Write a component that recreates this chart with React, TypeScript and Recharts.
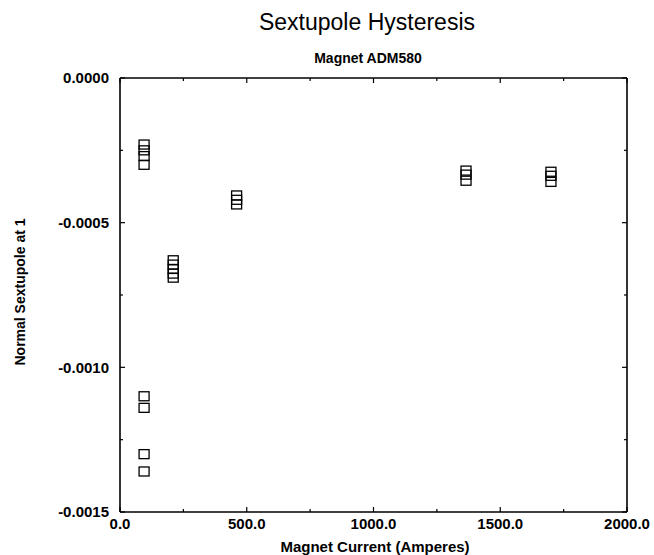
import { ScatterChart, Scatter, XAxis, YAxis } from 'recharts';

// tick values (minor every 250 A / 0.00025, labels on the major ones)
const currentTicks = [0, 250, 500, 750, 1000, 1250, 1500, 1750, 2000];
const sextupoleTicks = [0, -0.00025, -0.0005, -0.00075, -0.001, -0.00125, -0.0015];

// measured points, one array per current setting
const lowCurrentUp = [
  { current: 95, sextupole: -0.00023 },
  { current: 95, sextupole: -0.00025 },
  { current: 95, sextupole: -0.00027 },
  { current: 95, sextupole: -0.0003 },
];
const lowCurrentDown = [
  { current: 95, sextupole: -0.0011 },
  { current: 95, sextupole: -0.00114 },
  { current: 95, sextupole: -0.0013 },
  { current: 95, sextupole: -0.00136 },
];
const current210 = [
  { current: 210, sextupole: -0.00063 },
  { current: 210, sextupole: -0.000645 },
  { current: 210, sextupole: -0.00066 },
  { current: 210, sextupole: -0.000676 },
  { current: 210, sextupole: -0.00069 },
];
const current460 = [
  { current: 460, sextupole: -0.000406 },
  { current: 460, sextupole: -0.000421 },
  { current: 460, sextupole: -0.000437 },
];
const current1365 = [
  { current: 1365, sextupole: -0.00032 },
  { current: 1365, sextupole: -0.000334 },
  { current: 1365, sextupole: -0.000355 },
];
const current1700 = [
  { current: 1700, sextupole: -0.000324 },
  { current: 1700, sextupole: -0.000338 },
  { current: 1700, sextupole: -0.000359 },
];

const groups = [lowCurrentUp, lowCurrentDown, current210, current460, current1365, current1700];

const FONT = '"Liberation Sans", Arial, Helvetica, sans-serif';

const isMajorX = (v: number) => v % 500 === 0;
const isMajorY = (v: number) => Math.abs(Math.round(v / 0.0005) * 0.0005 - v) < 1e-9;

const BottomTick = (props: any) => {
  const { x, y, payload } = props;
  const major = isMajorX(payload.value);
  return (
    <g>
      <line x1={x} y1={y} x2={x} y2={y - (major ? 5 : 3)} stroke="#000" strokeWidth={1.2} />
      {major && (
        <text x={x} y={y + 17} textAnchor="middle" fontSize={15} fontWeight="bold" fontFamily={FONT} fill="#000">
          {payload.value.toFixed(1)}
        </text>
      )}
    </g>
  );
};

const TopTick = (props: any) => {
  const { x, y, payload } = props;
  const major = isMajorX(payload.value);
  return <line x1={x} y1={y} x2={x} y2={y + (major ? 5 : 3)} stroke="#000" strokeWidth={1.2} />;
};

const LeftTick = (props: any) => {
  const { x, y, payload } = props;
  const major = isMajorY(payload.value);
  return (
    <g>
      <line x1={x} y1={y} x2={x + (major ? 5 : 3)} y2={y} stroke="#000" strokeWidth={1.2} />
      {major && (
        <text x={x - 11} y={y} dy="0.35em" textAnchor="end" fontSize={15} fontWeight="bold" fontFamily={FONT} fill="#000">
          {payload.value.toFixed(4)}
        </text>
      )}
    </g>
  );
};

const RightTick = (props: any) => {
  const { x, y, payload } = props;
  const major = isMajorY(payload.value);
  return <line x1={x} y1={y} x2={x - (major ? 5 : 3)} y2={y} stroke="#000" strokeWidth={1.2} />;
};

const HollowSquare = (props: any) => {
  const { cx, cy } = props;
  return <rect x={cx - 5} y={cy - 4.5} width={10} height={9} fill="none" stroke="#000" strokeWidth={1.3} />;
};

const centered = (left: number, top: number, extra: any = {}) => ({
  position: 'absolute' as const,
  left,
  top,
  transform: 'translate(-50%, -50%)',
  whiteSpace: 'nowrap' as const,
  fontFamily: FONT,
  color: '#000',
  lineHeight: 1,
  ...extra,
});

export default function App() {
  return (
    <div style={{ position: 'absolute', left: 0, top: 0, width: 654, height: 555, background: '#fff' }}>
      <ScatterChart width={654} height={555} margin={{ top: 77, right: 26, bottom: 0, left: 0 }}>
        <XAxis
          xAxisId="b"
          type="number"
          dataKey="current"
          domain={[0, 2000]}
          ticks={currentTicks}
          height={43}
          tickSize={0}
          tickMargin={0}
          tickLine={false}
          tick={<BottomTick />}
          axisLine={{ stroke: '#000', strokeWidth: 1.6 }}
          allowDataOverflow
        />
        <XAxis
          xAxisId="t"
          orientation="top"
          type="number"
          dataKey="current"
          domain={[0, 2000]}
          ticks={currentTicks}
          height={1}
          tickSize={0}
          tickMargin={0}
          tickLine={false}
          tick={<TopTick />}
          axisLine={{ stroke: '#000', strokeWidth: 1.6 }}
          allowDataOverflow
        />
        <YAxis
          yAxisId="l"
          type="number"
          dataKey="sextupole"
          domain={[-0.0015, 0]}
          ticks={sextupoleTicks}
          width={120}
          tickSize={0}
          tickMargin={0}
          tickLine={false}
          tick={<LeftTick />}
          axisLine={{ stroke: '#000', strokeWidth: 1.6 }}
          allowDataOverflow
        />
        <YAxis
          yAxisId="r"
          orientation="right"
          type="number"
          dataKey="sextupole"
          domain={[-0.0015, 0]}
          ticks={sextupoleTicks}
          width={1}
          tickSize={0}
          tickMargin={0}
          tickLine={false}
          tick={<RightTick />}
          axisLine={{ stroke: '#000', strokeWidth: 1.6 }}
          allowDataOverflow
        />
        {groups.map((g, i) => (
          <Scatter
            key={i}
            data={g}
            xAxisId="b"
            yAxisId="l"
            shape={<HollowSquare />}
            isAnimationActive={false}
          />
        ))}
      </ScatterChart>
      <div style={centered(367, 22, { fontSize: 23 })}>Sextupole Hysteresis</div>
      <div style={centered(368, 58, { fontSize: 14, fontWeight: 'bold' })}>Magnet ADM580</div>
      <div style={centered(375, 546, { fontSize: 15, fontWeight: 'bold' })}>Magnet Current (Amperes)</div>
      <div style={centered(20, 292, { fontSize: 14, fontWeight: 'bold', transform: 'translate(-50%, -50%) rotate(-90deg)' })}>
        Normal Sextupole at 1
      </div>
    </div>
  );
}
